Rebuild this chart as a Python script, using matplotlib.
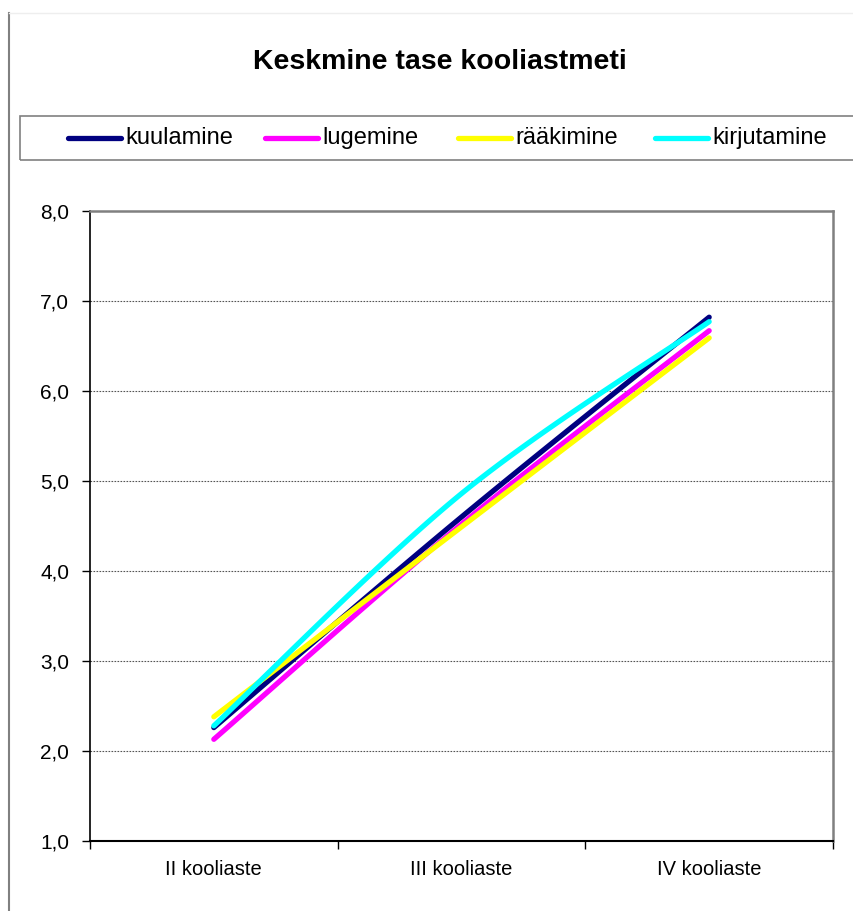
import matplotlib
matplotlib.use("Agg")
import matplotlib.pyplot as plt
import numpy as np
from matplotlib.lines import Line2D
from matplotlib.patches import Rectangle

plt.rcParams['font.family'] = ['Liberation Sans', 'DejaVu Sans']

# data
categories = ["II kooliaste", "III kooliaste", "IV kooliaste"]
series_names = ["kuulamine", "lugemine", "rääkimine", "kirjutamine"]
kuulamine = [2.26, 4.60, 6.82]
lugemine = [2.13, 4.52, 6.67]
raakimine = [2.38, 4.49, 6.59]
kirjutamine = [2.28, 4.86, 6.77]
colors = ["#000080", "#FF00FF", "#FFFF00", "#00FFFF"]
y_ticks = [1, 2, 3, 4, 5, 6, 7, 8]


def smooth(xs, ys, n=60):
    # Excel-like smoothed line: cubic Bezier with Catmull-Rom control points
    pts = np.column_stack([xs, ys]).astype(float)
    out = []
    for i in range(len(pts) - 1):
        p0 = pts[max(i - 1, 0)]
        p1 = pts[i]
        p2 = pts[i + 1]
        p3 = pts[min(i + 2, len(pts) - 1)]
        c1 = p1 + (p2 - p0) / 6.0
        c2 = p2 - (p3 - p1) / 6.0
        t = np.linspace(0, 1, n)[:, None]
        seg = ((1 - t) ** 3) * p1 + 3 * ((1 - t) ** 2) * t * c1 + 3 * (1 - t) * t ** 2 * c2 + t ** 3 * p2
        out.append(seg if i == 0 else seg[1:])
    out = np.vstack(out)
    return out[:, 0], out[:, 1]


W, H = 854, 911
fig = plt.figure(figsize=(W / 100, H / 100), dpi=100)

# outer chart frame
fig.add_artist(Line2D([9 / W, 9 / W], [0, 1 - 13 / H], color="#808080", lw=1.5))
fig.add_artist(Line2D([9 / W, 1], [1 - 13 / H, 1 - 13 / H], color="#eeeeee", lw=1))

ax = fig.add_axes([90 / W, 70 / H, (833 - 90) / W, (841 - 211) / H])

x = np.arange(len(categories))
data = [kuulamine, lugemine, raakimine, kirjutamine]
for name, vals, c in zip(series_names, data, colors):
    sx, sy = smooth(x, vals)
    ax.plot(sx, sy, color=c, lw=3.8, solid_capstyle="round", label=name, zorder=3)

ax.set_xlim(-0.5, len(categories) - 0.5)
ax.set_ylim(1, 8)
ax.set_yticks(y_ticks)
ax.set_yticklabels([f"{v:.1f}".replace(".", ",") for v in y_ticks], fontsize=15)
ax.tick_params(axis="y", length=6, width=1, pad=9)

ax.set_xticks(np.arange(len(categories) + 1) - 0.5)
ax.set_xticklabels([])
ax.set_xticks(x, minor=True)
ax.set_xticklabels(categories, minor=True, fontsize=14.5)
ax.tick_params(axis="x", which="major", length=6, width=1)
ax.tick_params(axis="x", which="minor", length=0, pad=14)

for v in y_ticks[1:-1]:
    ax.axhline(v, color="#555555", lw=0.8, dashes=(1.5, 1.2), zorder=1)

ax.spines["left"].set_color("black")
ax.spines["bottom"].set_color("black")
ax.spines["left"].set_linewidth(1.2)
ax.spines["bottom"].set_linewidth(1.5)
ax.spines["top"].set_color("#808080")
ax.spines["right"].set_color("#808080")
ax.spines["top"].set_linewidth(1.8)
ax.spines["right"].set_linewidth(1.8)

fig.text(440 / W, 1 - 62 / H, "Keskmine tase kooliastmeti", ha="center", va="center",
         fontsize=20.5, fontweight="bold")

# legend box running off the right edge, as in the reference
fig.add_artist(Rectangle((20 / W, 1 - 160 / H), 860 / W, 44 / H, fill=False,
                         edgecolor="#808080", lw=1.2, transform=fig.transFigure, clip_on=False))
handle_x = [68, 265, 458, 655]
ly = 1 - 138 / H
for hx, name, c in zip(handle_x, series_names, colors):
    fig.add_artist(Line2D([hx / W, (hx + 53) / W], [ly, ly], color=c, lw=3.8,
                          solid_capstyle="round"))
    fig.text((hx + 57) / W, ly, name, ha="left", va="center", fontsize=17)

fig.savefig("out.png", dpi=100)
